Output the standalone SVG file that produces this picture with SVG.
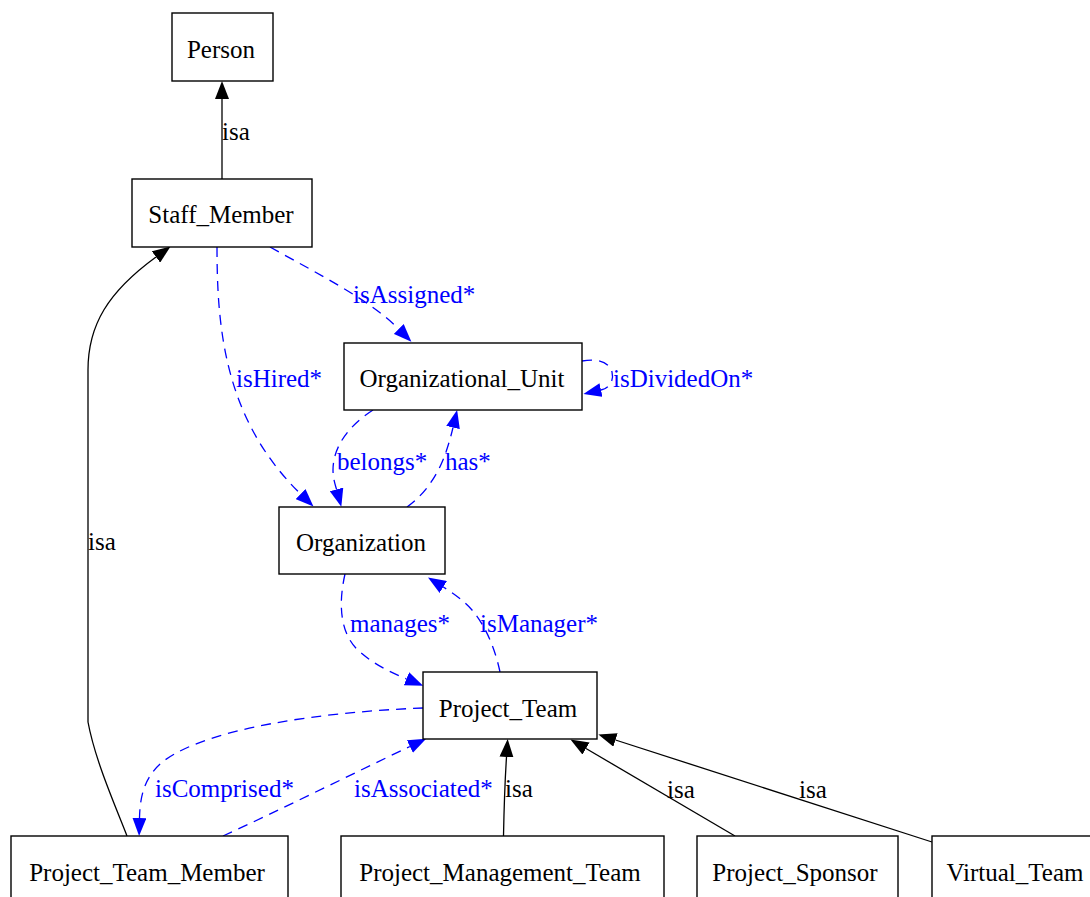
<svg xmlns="http://www.w3.org/2000/svg" width="1090" height="897" viewBox="0 0 1090 897">
<style>
.box{fill:#fff;stroke:#000;stroke-width:1.4}
.nt{font-family:"Liberation Serif","Times New Roman",serif;font-size:25px;fill:#000;text-anchor:middle}
.lb{font-family:"Liberation Serif","Times New Roman",serif;font-size:25px;fill:#000}
.lbb{font-family:"Liberation Serif","Times New Roman",serif;font-size:25px;fill:#0000ff}
.isa{fill:none;stroke:#000;stroke-width:1.3;marker-end:url(#ab)}
.rel{fill:none;stroke:#0000ff;stroke-width:1.3;stroke-dasharray:10,7;marker-end:url(#au)}
</style>
<defs>
<marker id="ab" markerUnits="userSpaceOnUse" markerWidth="18" markerHeight="14" refX="0" refY="7" orient="auto"><path d="M0,0 L18,7 L0,14 z" fill="#000" stroke="none"/></marker>
<marker id="au" markerUnits="userSpaceOnUse" markerWidth="18" markerHeight="14" refX="0" refY="7" orient="auto"><path d="M0,0 L18,7 L0,14 z" fill="#0000ff" stroke="none"/></marker>
</defs>
<rect width="1090" height="897" fill="#fff"/>
<g id="connectors">
<path class="isa" d="M222,179 L222,99"/>
<path class="isa" d="M127,836 C115,805 95,760 88,722 L88,370 C88,325 108,292 156,257"/>
<path class="isa" d="M503.5,836 C504,810 505,780 506.5,757"/>
<path class="isa" d="M735,836 L586,748.5"/>
<path class="isa" d="M932,842 L615.5,740"/>
<path class="rel" d="M217,247 C217,330 225,420 300.6,494"/>
<path class="rel" d="M270,247 C320,275 370,300 398.7,329"/>
<path class="rel" d="M582,361 C598,358 609,362 612,372 C614,380 610,388 601,390"/>
<path class="rel" d="M373,410 C345,428 333,450 333,470 C333,478 335,484 336.5,489.4"/>
<path class="rel" d="M407,507 C428,492 440,470 446,452 C449,443 451,436 453,427.5"/>
<path class="rel" d="M345,574 C338,605 340,635 360,652 C375,665 390,672 406.5,678.8"/>
<path class="rel" d="M500,672 C495,648 485,625 472,610 C463,600 453,593 443.3,587"/>
<path class="rel" d="M423,708 C320,712 210,728 165,760 C145,775 140,795 139.5,818"/>
<path class="rel" d="M223,836 C280,810 350,775 409.9,746.5"/>
<text class="lb" x="222" y="140">isa</text>
<text class="lb" x="88" y="550">isa</text>
<text class="lb" x="505" y="797">isa</text>
<text class="lb" x="667" y="798">isa</text>
<text class="lb" x="799" y="798">isa</text>
<text class="lbb" x="236" y="387">isHired*</text>
<text class="lbb" x="353" y="303">isAssigned*</text>
<text class="lbb" x="613" y="387">isDividedOn*</text>
<text class="lbb" x="337" y="470">belongs*</text>
<text class="lbb" x="445" y="470">has*</text>
<text class="lbb" x="350" y="632">manages*</text>
<text class="lbb" x="480" y="632">isManager*</text>
<text class="lbb" x="155" y="797">isComprised*</text>
<text class="lbb" x="354" y="797">isAssociated*</text>
</g>
<g id="Person"><rect class="box" x="172" y="13" width="101" height="68"/><text class="nt" x="221" y="58">Person</text></g>
<g id="Staff_Member"><rect class="box" x="132" y="179" width="180" height="68"/><text class="nt" x="221" y="223">Staff_Member</text></g>
<g id="Organizational_Unit"><rect class="box" x="344" y="343" width="238" height="67"/><text class="nt" x="462" y="387">Organizational_Unit</text></g>
<g id="Organization"><rect class="box" x="279" y="507" width="166" height="67"/><text class="nt" x="361" y="551">Organization</text></g>
<g id="Project_Team"><rect class="box" x="423" y="672" width="174" height="67"/><text class="nt" x="508" y="717">Project_Team</text></g>
<g id="Project_Team_Member"><rect class="box" x="11" y="836" width="277" height="68"/><text class="nt" x="147" y="881">Project_Team_Member</text></g>
<g id="Project_Management_Team"><rect class="box" x="341" y="836" width="323" height="68"/><text class="nt" x="500" y="881">Project_Management_Team</text></g>
<g id="Project_Sponsor"><rect class="box" x="697" y="836" width="201" height="68"/><text class="nt" x="795" y="881">Project_Sponsor</text></g>
<g id="Virtual_Team"><rect class="box" x="932" y="836" width="180" height="68"/><text class="nt" x="1015" y="881">Virtual_Team</text></g>
</svg>
